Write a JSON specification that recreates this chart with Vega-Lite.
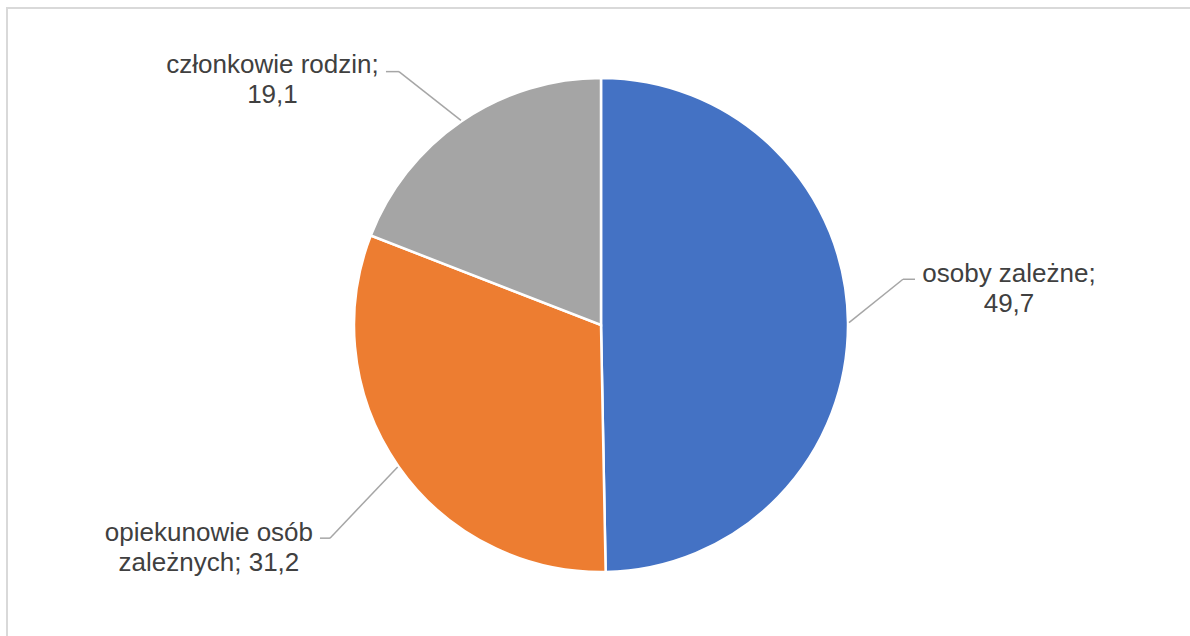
{
  "$schema": "https://vega.github.io/schema/vega-lite/v6.json",
  "width": 1187,
  "height": 632,
  "autosize": {"type": "none"},
  "padding": {"left": 7, "top": 8, "right": -4, "bottom": -4},
  "background": "white",
  "config": {
    "view": {"stroke": "#d9d9d9", "strokeWidth": 2},
    "text": {"font": "Liberation Sans"}
  },
  "data": {
    "values": [
      {"kategoria": "osoby zależne", "wartosc": 49.7, "etykieta": "osoby zależne;\n49,7"},
      {"kategoria": "opiekunowie osób zależnych", "wartosc": 31.2, "etykieta": "opiekunowie osób\nzależnych; 31,2"},
      {"kategoria": "członkowie rodzin", "wartosc": 19.1, "etykieta": "członkowie rodzin;\n19,1"}
    ]
  },
  "transform": [
    {"window": [{"op": "sum", "field": "wartosc", "as": "cum"}, {"op": "row_number", "as": "nr"}], "frame": [null, 0]},
    {"joinaggregate": [{"op": "sum", "field": "wartosc", "as": "total"}]},
    {"calculate": "2*PI*(datum.cum - datum.wartosc/2)/datum.total", "as": "a"},
    {"calculate": "248*sin(datum.a)", "as": "ex"},
    {"calculate": "-248*cos(datum.a)", "as": "ey"},
    {"calculate": "datum.kategoria == 'osoby zależne' ? 54 : datum.kategoria == 'członkowie rodzin' ? -62 : -67.7", "as": "odx"},
    {"calculate": "datum.kategoria == 'osoby zależne' ? -43.4 : datum.kategoria == 'członkowie rodzin' ? -48.7 : 71.2", "as": "ody"},
    {"calculate": "datum.kategoria == 'osoby zależne' ? 12 : datum.kategoria == 'członkowie rodzin' ? -13 : -10", "as": "hl"},
    {"calculate": "datum.ex + datum.odx", "as": "bx"},
    {"calculate": "datum.ey + datum.ody", "as": "by"},
    {"calculate": "datum.bx + datum.hl", "as": "hx"},
    {"calculate": "datum.hx + (datum.kategoria == 'osoby zależne' ? 94 : datum.kategoria == 'członkowie rodzin' ? -113.5 : -111)", "as": "lx"},
    {"calculate": "datum.by + (datum.kategoria == 'osoby zależne' ? 2.4 : datum.kategoria == 'członkowie rodzin' ? 1 : 2.7)", "as": "ly"}
  ],
  "layer": [
    {
      "mark": {"type": "arc", "outerRadius": 247, "stroke": "white", "strokeWidth": 2.5},
      "encoding": {
        "theta": {"field": "wartosc", "type": "quantitative", "stack": true},
        "order": {"field": "nr", "type": "quantitative"},
        "color": {
          "field": "kategoria",
          "type": "nominal",
          "scale": {
            "domain": ["osoby zależne", "opiekunowie osób zależnych", "członkowie rodzin"],
            "range": ["#4472C4", "#ED7D31", "#A5A5A5"]
          },
          "legend": null
        },
        "x": {"datum": 0, "type": "quantitative", "scale": {"domain": [-594, 593], "nice": false, "zero": false}, "axis": null},
        "y": {"datum": 0, "type": "quantitative", "scale": {"domain": [-317, 315], "nice": false, "zero": false, "reverse": true}, "axis": null}
      }
    },
    {
      "mark": {"type": "rule", "color": "#a6a6a6", "strokeWidth": 1.5},
      "encoding": {
        "x": {"field": "ex", "type": "quantitative", "scale": {"domain": [-594, 593], "nice": false, "zero": false}, "axis": null},
        "y": {"field": "ey", "type": "quantitative", "scale": {"domain": [-317, 315], "nice": false, "zero": false, "reverse": true}, "axis": null},
        "x2": {"field": "bx"},
        "y2": {"field": "by"}
      }
    },
    {
      "mark": {"type": "rule", "color": "#a6a6a6", "strokeWidth": 1.5},
      "encoding": {
        "x": {"field": "bx", "type": "quantitative", "scale": {"domain": [-594, 593], "nice": false, "zero": false}, "axis": null},
        "x2": {"field": "hx"},
        "y": {"field": "by", "type": "quantitative", "scale": {"domain": [-317, 315], "nice": false, "zero": false, "reverse": true}, "axis": null}
      }
    },
    {
      "mark": {"type": "text", "align": "center", "baseline": "alphabetic", "fontSize": 26, "lineHeight": 30, "lineBreak": "\n", "color": "#404040"},
      "encoding": {
        "x": {"field": "lx", "type": "quantitative", "scale": {"domain": [-594, 593], "nice": false, "zero": false}, "axis": null},
        "y": {"field": "ly", "type": "quantitative", "scale": {"domain": [-317, 315], "nice": false, "zero": false, "reverse": true}, "axis": null},
        "text": {"field": "etykieta", "type": "nominal"}
      }
    }
  ]
}
